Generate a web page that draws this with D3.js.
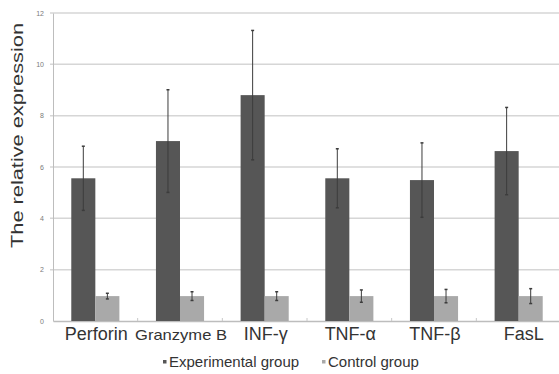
<!DOCTYPE html>
<html>
<head>
<meta charset="utf-8">
<script src="https://cdnjs.cloudflare.com/ajax/libs/d3/7.8.5/d3.min.js"></script>
<style>
  body { margin: 0; background: #fff; }
  svg { display: block; font-family: "Liberation Sans", Arial, sans-serif; }
</style>
</head>
<body>
<svg width="559" height="374"></svg>
<script>
// values
var categories = ["Perforin", "Granzyme B", "INF-γ", "TNF-α", "TNF-β", "FasL"];
var groups = ["Experimental group", "Control group"];
var expMean = [5.56, 7.01, 8.80, 5.56, 5.49, 6.62];
var expErr = [1.25, 2.0, 2.52, 1.15, 1.45, 1.7];
var ctrlMean = [0.97, 0.97, 0.97, 0.97, 0.97, 0.97];
var ctrlErr = [0.11, 0.17, 0.17, 0.24, 0.26, 0.29];
var yTicks = [0, 2, 4, 6, 8, 10, 12];

var svg = d3.select("svg"),
    width = +svg.attr("width"),
    height = +svg.attr("height");

var colors = { "Experimental group": "#565656", "Control group": "#a9a9a9" };

var x = d3.scaleBand()
    .domain(categories)
    .range([53, 561]);

var x1 = d3.scaleBand()
    .domain(groups)
    .range([0, x.bandwidth()])
    .paddingOuter(0.76);

var y = d3.scaleLinear()
    .domain([0, 12])
    .range([321, 13]);

// gridlines
svg.append("g")
    .selectAll("line")
    .data(yTicks.filter(function(d) { return d > 0; }))
    .enter().append("line")
    .attr("x1", 50)
    .attr("x2", 559)
    .attr("y1", function(d) { return y(d); })
    .attr("y2", function(d) { return y(d); })
    .attr("stroke", "#d6d6d6")
    .attr("stroke-width", 1.5);

// y axis
var yAxis = d3.axisLeft(y)
    .tickValues(yTicks)
    .tickSize(0)
    .tickPadding(9);

var gy = svg.append("g")
    .attr("transform", "translate(53,0)")
    .call(yAxis);
gy.select(".domain").attr("stroke", "#bdbdbd");
gy.selectAll("text")
    .attr("font-size", "7px")
    .attr("fill", "#7a7a7a");

// x axis
var gx = svg.append("g")
    .attr("transform", "translate(0,321)")
    .call(d3.axisBottom(x).tickSize(0).tickFormat(""));
gx.select(".domain").attr("stroke", "#bdbdbd").attr("stroke-width", 1.5);

svg.append("g")
    .selectAll("line")
    .data(categories.slice(1))
    .enter().append("line")
    .attr("x1", function(d) { return x(d); })
    .attr("x2", function(d) { return x(d); })
    .attr("y1", 318)
    .attr("y2", 321)
    .attr("stroke", "#c8c8c8");

// bars
var rows = [];
categories.forEach(function(c, i) {
    rows.push({ cat: c, group: groups[0], value: expMean[i], err: expErr[i] });
    rows.push({ cat: c, group: groups[1], value: ctrlMean[i], err: ctrlErr[i] });
});

svg.append("g")
    .selectAll("rect")
    .data(rows)
    .enter().append("rect")
    .attr("x", function(d) { return x(d.cat) + x1(d.group); })
    .attr("width", x1.bandwidth())
    .attr("y", function(d) { return y(d.value); })
    .attr("height", function(d) { return y(0) - y(d.value); })
    .attr("fill", function(d) { return colors[d.group]; });

// error bars
var eb = svg.append("g")
    .selectAll("g")
    .data(rows)
    .enter().append("g")
    .attr("transform", function(d) {
        return "translate(" + (x(d.cat) + x1(d.group) + x1.bandwidth() / 2) + ",0)";
    });

eb.append("line")
    .attr("y1", function(d) { return y(d.value + d.err); })
    .attr("y2", function(d) { return y(d.value - d.err); })
    .attr("stroke", "#3c3c3c")
    .attr("stroke-width", 1);

eb.selectAll(".cap")
    .data(function(d) { return [d.value + d.err, d.value - d.err]; })
    .enter().append("line")
    .attr("class", "cap")
    .attr("x1", -1.5)
    .attr("x2", 1.5)
    .attr("y1", function(v) { return y(v); })
    .attr("y2", function(v) { return y(v); })
    .attr("stroke", "#3c3c3c")
    .attr("stroke-width", 1.5);

// category labels
svg.append("g")
    .selectAll("text")
    .data(categories)
    .enter().append("text")
    .attr("x", function(d) { return x(d) + x.bandwidth() / 2 + (d == "FasL" ? 5 : 1); })
    .attr("y", 340)
    .attr("text-anchor", "middle")
    .attr("font-size", function(d) { return d == "Granzyme B" ? "15px" : "18px"; })
    .attr("fill", "#333")
    .each(function(d) {
        if (d == "Granzyme B") {
            d3.select(this).attr("textLength", 92).attr("lengthAdjust", "spacingAndGlyphs");
        }
    })
    .text(function(d) { return d; });

// y title
svg.append("text")
    .attr("transform", "translate(23,135.5) rotate(-90)")
    .attr("text-anchor", "middle")
    .attr("font-size", "17px")
    .attr("textLength", 225)
    .attr("lengthAdjust", "spacingAndGlyphs")
    .attr("fill", "#333")
    .text("The relative expression");

// legend
var legendX = [163, 322];
var legend = svg.append("g")
    .selectAll("g")
    .data(groups)
    .enter().append("g")
    .attr("transform", function(d, i) { return "translate(" + legendX[i] + ",362)"; });

legend.append("rect")
    .attr("x", 0)
    .attr("y", -2)
    .attr("width", 3.5)
    .attr("height", 3.5)
    .attr("fill", function(d) { return colors[d]; });

legend.append("text")
    .attr("x", 6)
    .attr("y", 0)
    .attr("dy", "0.35em")
    .attr("font-size", "15px")
    .attr("fill", "#333")
    .text(function(d) { return d; });
</script>
</body>
</html>
